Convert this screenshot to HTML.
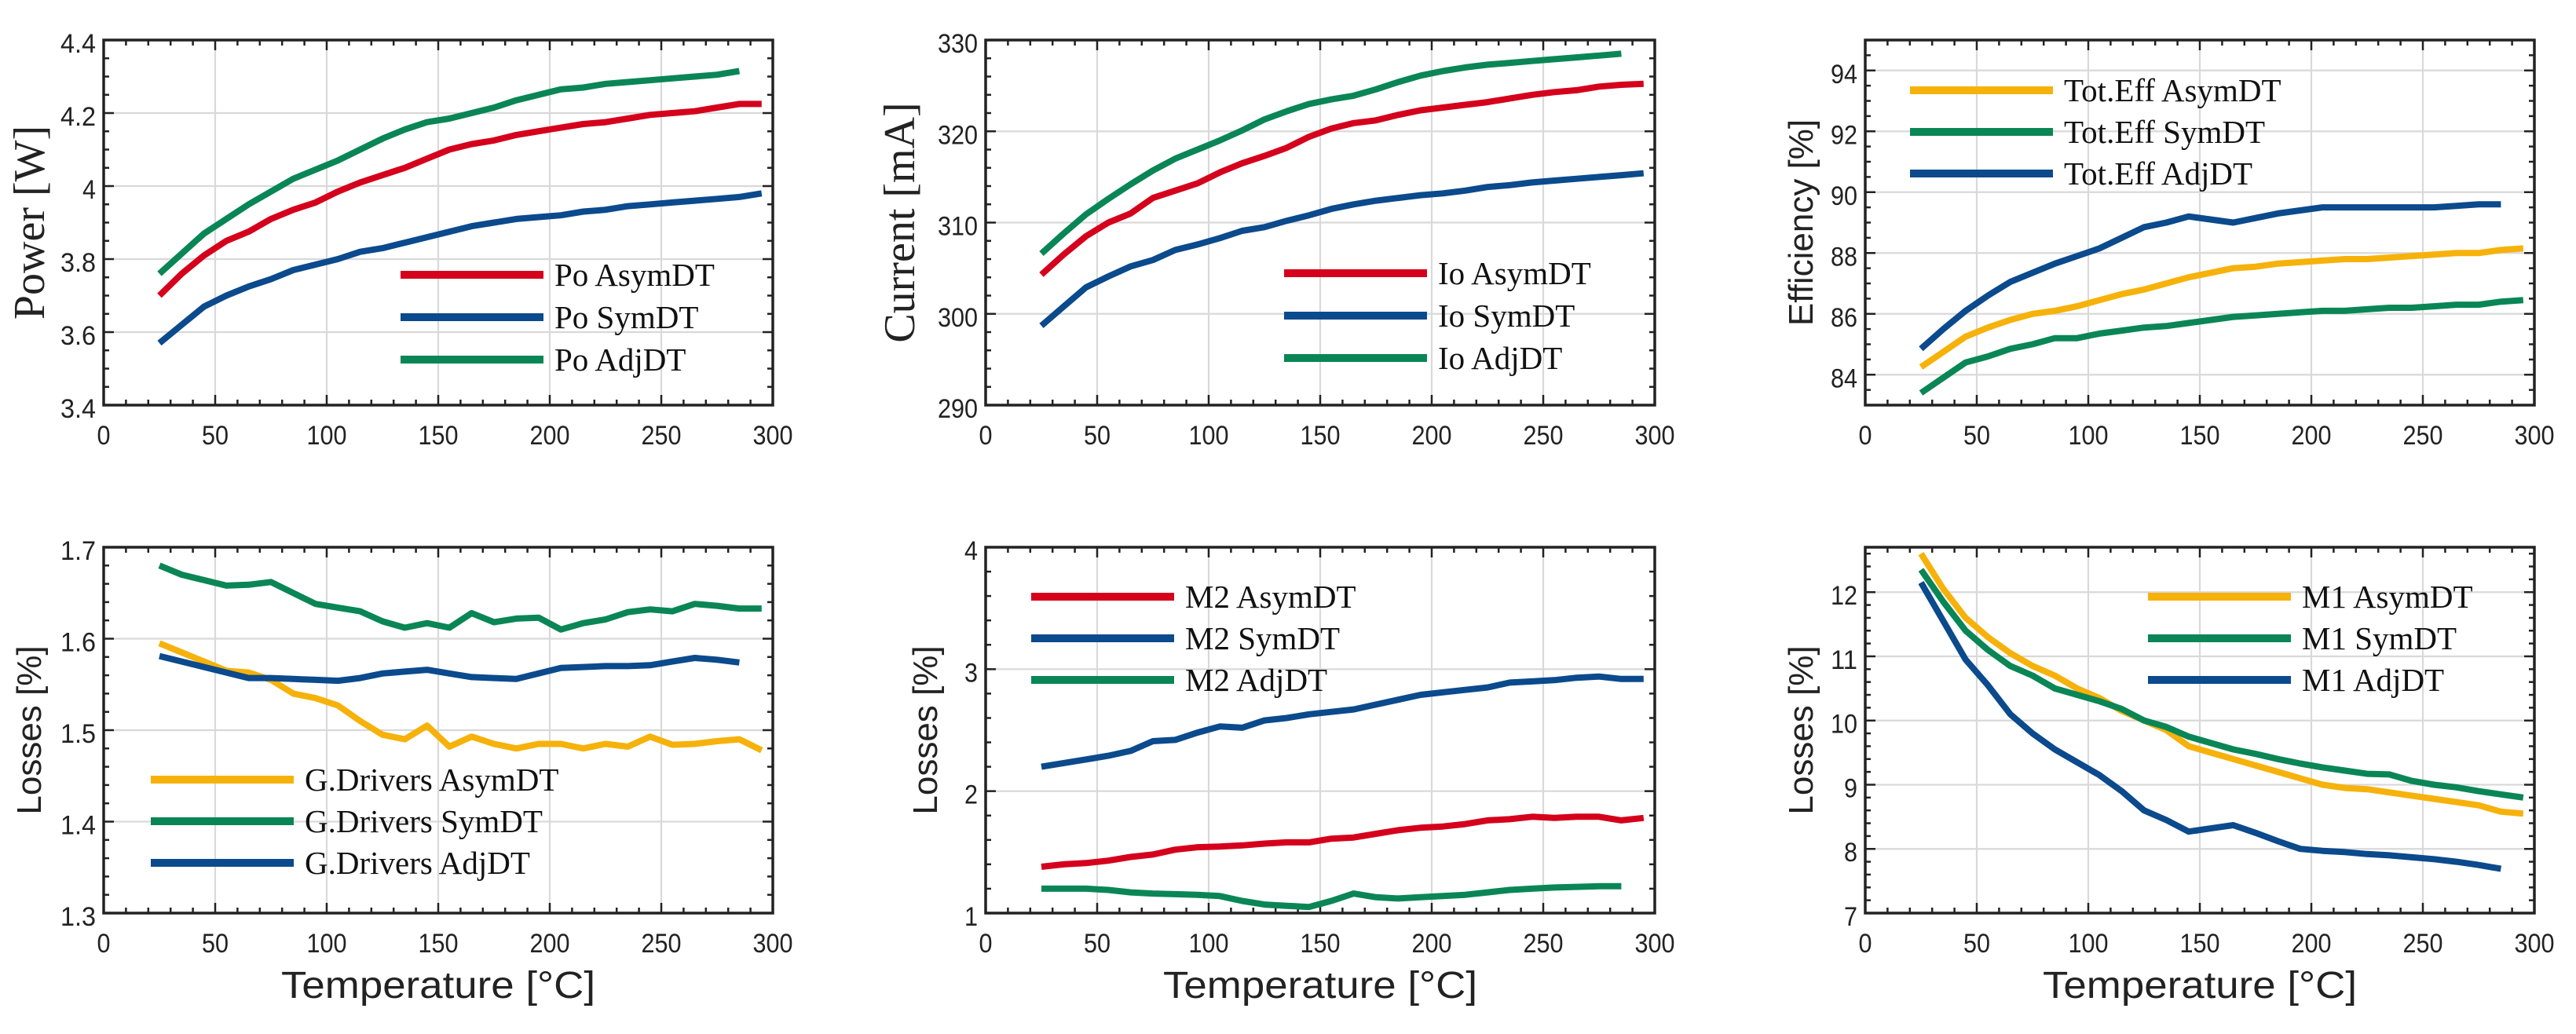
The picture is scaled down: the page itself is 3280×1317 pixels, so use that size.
<!DOCTYPE html>
<html><head><meta charset="utf-8">
<style>
html,body{margin:0;padding:0;background:#fff;}
svg{display:block;}
</style></head>
<body>
<svg id="fig" width="3280" height="1317" viewBox="0 0 3280 1317" xmlns="http://www.w3.org/2000/svg"></svg>
<script>
// ---- shared data ----
const temps = [25,35,45,55,65,75,85,95,105,115,125,135,145,155,165,175,185,195,205,215,225,235,245,255,265,275,285,295];
const xTicks = [0,50,100,150,200,250,300];

// Panel 1: Power
const poAsym = [3.70,3.76,3.81,3.85,3.875,3.91,3.935,3.955,3.985,4.01,4.03,4.05,4.075,4.10,4.115,4.125,4.14,4.15,4.16,4.17,4.175,4.185,4.195,4.20,4.205,4.215,4.225,4.225];
const poSym = [3.57,3.62,3.67,3.70,3.725,3.745,3.77,3.785,3.80,3.82,3.83,3.845,3.86,3.875,3.89,3.90,3.91,3.915,3.92,3.93,3.935,3.945,3.95,3.955,3.96,3.965,3.97,3.98];
const poAdj = [3.76,3.815,3.87,3.91,3.95,3.985,4.02,4.045,4.07,4.10,4.13,4.155,4.175,4.185,4.20,4.215,4.235,4.25,4.265,4.27,4.28,4.285,4.29,4.295,4.30,4.305,4.315];
const poTicks = ['3.4','3.6','3.8','4','4.2','4.4'];

// Panel 2: Current
const ioAsym = [304.3,306.5,308.5,310,311,312.7,313.5,314.3,315.5,316.5,317.3,318.2,319.4,320.3,320.9,321.2,321.8,322.3,322.6,322.9,323.2,323.6,324,324.3,324.5,324.9,325.1,325.2];
const ioSym = [298.7,300.8,302.9,304.1,305.2,305.9,307.0,307.6,308.3,309.1,309.5,310.2,310.8,311.5,312.0,312.4,312.7,313.0,313.2,313.5,313.9,314.1,314.4,314.6,314.8,315.0,315.2,315.4];
const ioAdj = [306.6,308.8,310.9,312.6,314.2,315.7,317.0,318.0,319.0,320.1,321.3,322.2,323.0,323.5,323.9,324.6,325.4,326.1,326.6,327.0,327.3,327.5,327.7,327.9,328.1,328.3,328.5];
const ioTicks = ['290','300','310','320','330'];

// Panel 3: Efficiency
const effAsym = [84.25,84.75,85.25,85.55,85.8,86.0,86.1,86.25,86.45,86.65,86.8,87.0,87.2,87.35,87.5,87.55,87.65,87.7,87.75,87.8,87.8,87.85,87.9,87.95,88.0,88.0,88.1,88.15];
const effSym = [83.4,83.9,84.4,84.6,84.85,85.0,85.2,85.2,85.35,85.45,85.55,85.6,85.7,85.8,85.9,85.95,86.0,86.05,86.1,86.1,86.15,86.2,86.2,86.25,86.3,86.3,86.4,86.45];
const effAdj = [84.85,85.5,86.1,86.6,87.05,87.35,87.65,87.9,88.15,88.5,88.85,89.0,89.2,89.1,89.0,89.15,89.3,89.4,89.5,89.5,89.5,89.5,89.5,89.5,89.55,89.6,89.6];
const effTicks = ['84','86','88','90','92','94'];

// Panel 4: Gate driver losses
const gdAsym = [1.595,1.585,1.575,1.565,1.563,1.555,1.54,1.535,1.527,1.51,1.495,1.49,1.505,1.482,1.493,1.485,1.48,1.485,1.485,1.48,1.485,1.482,1.493,1.484,1.485,1.488,1.49,1.478];
const gdSym = [1.68,1.67,1.664,1.658,1.659,1.662,1.65,1.638,1.634,1.63,1.619,1.612,1.617,1.612,1.628,1.618,1.622,1.623,1.61,1.617,1.621,1.629,1.632,1.630,1.638,1.636,1.633,1.633];
const gdAdj = [1.581,1.575,1.569,1.563,1.557,1.557,1.556,1.555,1.554,1.557,1.562,1.564,1.566,1.562,1.558,1.557,1.556,1.562,1.568,1.569,1.570,1.570,1.571,1.575,1.579,1.577,1.574];
const gdTicks = ['1.3','1.4','1.5','1.6','1.7'];

// Panel 5: M2 losses
const m2Asym = [1.38,1.40,1.41,1.43,1.46,1.48,1.52,1.54,1.545,1.555,1.57,1.58,1.58,1.61,1.62,1.65,1.68,1.70,1.71,1.73,1.76,1.77,1.79,1.78,1.79,1.79,1.76,1.78];
const m2Sym = [2.20,2.23,2.26,2.29,2.33,2.41,2.42,2.48,2.53,2.52,2.58,2.60,2.63,2.65,2.67,2.71,2.75,2.79,2.81,2.83,2.85,2.89,2.90,2.91,2.93,2.94,2.92,2.92];
const m2Adj = [1.20,1.20,1.20,1.19,1.17,1.16,1.155,1.15,1.14,1.10,1.07,1.06,1.05,1.10,1.16,1.13,1.12,1.13,1.14,1.15,1.17,1.19,1.20,1.21,1.215,1.22,1.22];
const m2Ticks = ['1','2','3','4'];

// Panel 6: M1 losses
const m1Asym = [12.6,12.05,11.6,11.3,11.05,10.85,10.7,10.5,10.35,10.15,10.0,9.85,9.6,9.5,9.4,9.3,9.2,9.1,9.0,8.95,8.93,8.88,8.83,8.78,8.73,8.68,8.58,8.55];
const m1Sym = [12.35,11.85,11.4,11.1,10.85,10.7,10.5,10.4,10.3,10.18,10.0,9.9,9.75,9.65,9.55,9.48,9.4,9.33,9.27,9.22,9.17,9.16,9.06,9.0,8.96,8.9,8.85,8.8];
const m1Adj = [12.15,11.55,10.95,10.55,10.1,9.8,9.55,9.35,9.15,8.9,8.6,8.45,8.27,8.32,8.37,8.25,8.12,8.0,7.97,7.95,7.92,7.9,7.87,7.84,7.8,7.75,7.69];
const m1Ticks = ['7','8','9','10','11','12'];

const RED='#d5001c', BLUE='#0b4a8c', GREEN='#0a8656', ORANGE='#f6b20a';
const NS='http://www.w3.org/2000/svg';
const svg=document.getElementById('fig');

function mk(tag, attrs, parent){
  const e=document.createElementNS(NS,tag);
  for(const k in attrs) e.setAttribute(k,attrs[k]);
  (parent||svg).appendChild(e);
  return e;
}

function panel(cfg){
  const g=mk('g',{});
  
  
  const L=cfg.left, T=cfg.top, W=852, H=cfg.bottom-cfg.top;
  const sx=v=>L+(v-0)/300*W;
  const sy=v=>cfg.bottom-(v-cfg.ymin)/(cfg.ymax-cfg.ymin)*H;
  xTicks.forEach(t=>{
    if(t>0&&t<300){
      const l=mk('line',{x1:sx(t),x2:sx(t),y1:T,y2:cfg.bottom,stroke:'#d9d9d9','stroke-width':2.2},g);
      
      
    }
  });
  cfg.yticks.forEach(t=>{
    const v=parseFloat(t);
    if(v>cfg.ymin+1e-9 && v<cfg.ymax-1e-9){
      const l=mk('line',{x1:L,x2:L+W,y1:sy(v),y2:sy(v),stroke:'#d9d9d9','stroke-width':2.2},g);
      
      
    }
  });
  for(let t=10;t<300;t+=10){
    const major=t%50===0; const len=major?13:7;
    mk('line',{x1:sx(t),x2:sx(t),y1:cfg.bottom,y2:cfg.bottom-len,stroke:'#222','stroke-width':2.5},g);
    mk('line',{x1:sx(t),x2:sx(t),y1:T,y2:T+len,stroke:'#222','stroke-width':2.5},g);
  }
  const ystep=cfg.ystep, ym=cfg.yminor;
  const base=Math.ceil(cfg.ymin/ym-1e-6)*ym;
  for(let v=base; v<cfg.ymax-1e-9; v+=ym){
    if(v<=cfg.ymin+1e-9) continue;
    const major=Math.abs(v/ystep-Math.round(v/ystep))<1e-6; const len=major?13:7;
    mk('line',{x1:L,x2:L+len,y1:sy(v),y2:sy(v),stroke:'#222','stroke-width':2.5},g);
    mk('line',{x1:L+W,x2:L+W-len,y1:sy(v),y2:sy(v),stroke:'#222','stroke-width':2.5},g);
  }
  const fr=mk('rect',{x:L,y:T,width:W,height:H,fill:'none',stroke:'#222','stroke-width':3.5},g);
  
  
  xTicks.forEach(t=>{
    const tx=mk('text',{x:sx(t),y:cfg.bottom+50,'text-anchor':'middle','font-family':'Liberation Sans, sans-serif','font-size':34,fill:'#222',textLength:String(t).length*17,lengthAdjust:'spacingAndGlyphs'},g);
    tx.textContent=t;
    
    
  });
  cfg.yticks.forEach(t=>{
    const v=parseFloat(t);
    const ty=mk('text',{x:L-10,y:sy(v)+16,'text-anchor':'end','font-family':'Liberation Sans, sans-serif','font-size':34,fill:'#222',textLength:t.length*17-(t.includes('.')?6:0),lengthAdjust:'spacingAndGlyphs'},g);
    ty.textContent=t;
    
    
  });
  const yl=mk('text',{x:0,y:0,'text-anchor':'middle','font-family':cfg.ylabelSerif?'Liberation Serif, serif':'Liberation Sans, sans-serif','font-size':cfg.ylabelSerif?56:44,fill:'#222',transform:`translate(${cfg.ylabelX},${(T+cfg.bottom)/2}) rotate(-90)`},g);
  yl.textContent=cfg.ylabel;
  
  
  if(cfg.xlabel){
    const xl=mk('text',{x:L+W/2,y:cfg.bottom+108,'text-anchor':'middle','font-family':'Liberation Sans, sans-serif','font-size':48,fill:'#222',textLength:400,lengthAdjust:'spacingAndGlyphs'},g);
    xl.textContent='Temperature [°C]';
    
    
  }
  cfg.series.forEach((s,i)=>{
    const pts=s.values.map((v,j)=>sx(temps[j]).toFixed(1)+','+sy(v).toFixed(1)).join(' ');
    const pl=mk('polyline',{points:pts,fill:'none',stroke:s.color,'stroke-width':8,'stroke-linejoin':'round'},g);
    
    
  });
  cfg.series.forEach((s,i)=>{
    const y=cfg.legY+i*cfg.legDy;
    const lg=mk('g',{},g);
    
    
    mk('line',{x1:cfg.legX,x2:cfg.legX+182,y1:y,y2:y,stroke:s.color,'stroke-width':10},lg);
    const t=mk('text',{x:cfg.legX+196,y:y+14,'font-family':'Liberation Serif, serif','font-size':41,fill:'#111'},lg);
    t.textContent=s.label;
  });
}

const topT=51, topB=516, botT=697, botB=1163;
panel({name:'power-chart',left:132,top:topT,bottom:topB,ymin:3.4,ymax:4.4,ystep:0.2,yminor:0.05,yticks:poTicks,ylabel:'Power [W]',ylabelSerif:true,ylabelX:56,
  series:[{label:'Po AsymDT',color:RED,values:poAsym},{label:'Po SymDT',color:BLUE,values:poSym},{label:'Po AdjDT',color:GREEN,values:poAdj}],legX:510,legY:350,legDy:54});
panel({name:'current-chart',left:1255,top:topT,bottom:topB,ymin:290,ymax:330,ystep:10,yminor:2,yticks:ioTicks,ylabel:'Current [mA]',ylabelSerif:true,ylabelX:1164,
  series:[{label:'Io AsymDT',color:RED,values:ioAsym},{label:'Io SymDT',color:BLUE,values:ioSym},{label:'Io AdjDT',color:GREEN,values:ioAdj}],legX:1635,legY:348,legDy:54});
panel({name:'efficiency-chart',left:2375,top:topT,bottom:topB,ymin:83,ymax:95,ystep:2,yminor:0.5,yticks:effTicks,ylabel:'Efficiency [%]',ylabelX:2308,
  series:[{label:'Tot.Eff AsymDT',color:ORANGE,values:effAsym},{label:'Tot.Eff SymDT',color:GREEN,values:effSym},{label:'Tot.Eff AdjDT',color:BLUE,values:effAdj}],legX:2432,legY:115,legDy:53});
panel({name:'gate-driver-losses-chart',left:132,top:botT,bottom:botB,ymin:1.3,ymax:1.7,ystep:0.1,yminor:0.02,yticks:gdTicks,ylabel:'Losses [%]',ylabelX:52,xlabel:true,
  series:[{label:'G.Drivers AsymDT',color:ORANGE,values:gdAsym},{label:'G.Drivers SymDT',color:GREEN,values:gdSym},{label:'G.Drivers AdjDT',color:BLUE,values:gdAdj}],legX:192,legY:993,legDy:53});
panel({name:'m2-losses-chart',left:1255,top:botT,bottom:botB,ymin:1,ymax:4,ystep:1,yminor:0.2,yticks:m2Ticks,ylabel:'Losses [%]',ylabelX:1193,xlabel:true,
  series:[{label:'M2 AsymDT',color:RED,values:m2Asym},{label:'M2 SymDT',color:BLUE,values:m2Sym},{label:'M2 AdjDT',color:GREEN,values:m2Adj}],legX:1313,legY:760,legDy:53});
panel({name:'m1-losses-chart',left:2375,top:botT,bottom:botB,ymin:7,ymax:12.7,ystep:1,yminor:0.2,yticks:m1Ticks,ylabel:'Losses [%]',ylabelX:2308,xlabel:true,
  series:[{label:'M1 AsymDT',color:ORANGE,values:m1Asym},{label:'M1 SymDT',color:GREEN,values:m1Sym},{label:'M1 AdjDT',color:BLUE,values:m1Adj}],legX:2735,legY:760,legDy:53});
</script>
</body></html>
